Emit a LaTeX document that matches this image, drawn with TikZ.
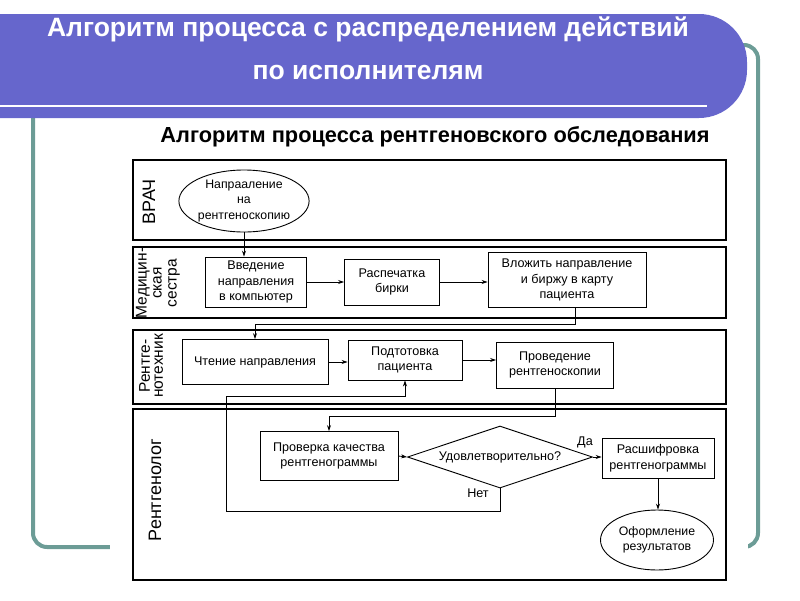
\documentclass[tikz,border=0pt]{standalone}
\usepackage{fontspec}
\setmainfont{Liberation Sans}
\usetikzlibrary{shapes.geometric,arrows.meta}
\definecolor{bannerblue}{RGB}{102,102,204}
\definecolor{frameteal}{RGB}{108,156,150}

\begin{document}
\begin{tikzpicture}[x=1pt,y=-1pt,
    procbox/.style={draw,line width=0.9pt,align=center,inner sep=0pt,font=\fontsize{12.6}{15.5}\selectfont},
    oval/.style={draw,ellipse,line width=0.9pt,align=center,inner sep=0pt,font=\fontsize{12.3}{15.5}\selectfont},
    decide/.style={draw,diamond,aspect=3,line width=0.9pt,inner sep=0pt,font=\fontsize{12.6}{15.5}\selectfont},
    lane/.style={draw,line width=1.6pt},
    lanelbl/.style={rotate=90,align=center,font=\fontsize{18}{18}\selectfont},
    flow/.style={-{Stealth[length=6pt,width=4pt]},line width=0.8pt}]
    \useasboundingbox (0,0) rectangle (800,600);

    % Slide frame and banner
    \draw[frameteal,line width=4pt,rounded corners=14pt] (33,60) -- (33,547) -- (758,547) -- (758,45) -- (690,45);
    \fill[bannerblue,rounded corners=48pt] (-60,14) rectangle (747,118);
    \draw[white,line width=2pt] (0,106) -- (707,106);
    \node[white,font=\bfseries\fontsize{26.5}{30}\selectfont] (title) at (368,29) {Алгоритм процесса с распределением действий};
    \node[white,font=\bfseries\fontsize{26.5}{30}\selectfont] (title2) at (368,72) {по исполнителям};

    % Scanned chart
    \fill[white] (110,119) rectangle (748,590);
    \node[font=\bfseries\fontsize{21.8}{26}\selectfont] (sub) at (435,137) {Алгоритм процесса рентгеновского обследования};

    % Lanes
    \draw[lane] (133,160) rectangle (726,240);
    \draw[lane] (133,247) rectangle (726,318);
    \draw[lane] (133,330) rectangle (726,404);
    \draw[lane] (133,409) rectangle (726,580);
    \node[lanelbl] (lbVrach) at (149,202) {ВРАЧ};
    \node[lanelbl,font=\fontsize{15.5}{15}\selectfont] (lbMed) at (158,283) {Медицин-\\ская\\сестра};
    \node[lanelbl,font=\fontsize{15.5}{13}\selectfont] (lbTech) at (151,366) {Рентге-\\нотехник};
    \node[lanelbl] (lbRad) at (155,490) {Рентгенолог};

    % Steps
    \node[oval,minimum width=122,minimum height=62] (napr) at (244,201) {Напрааление\\на\\рентгеноскопию};
    \node[procbox,minimum width=101,minimum height=50] (vved) at (256,282) {Введение\\направления\\в компьютер};
    \node[procbox,minimum width=95,minimum height=46] (rasp) at (392,282) {Распечатка\\бирки};
    \node[procbox,minimum width=158,minimum height=55] (vloz) at (567,280) {Вложить направление\\и биржу в карту\\пациента};
    \node[procbox,minimum width=146,minimum height=45] (cht) at (255,362) {Чтение направления};
    \node[procbox,minimum width=114,minimum height=40] (podg) at (405,360) {Подтотовка\\пациента};
    \node[procbox,minimum width=117,minimum height=46] (prov) at (555,365) {Проведение\\рентгеноскопии};
    \node[procbox,minimum width=138,minimum height=49] (check) at (329,456) {Проверка качества\\рентгенограммы};
    \node[decide,minimum width=185,minimum height=62] (dec) at (500,457) {Удовлетворительно?};
    \node[procbox,minimum width=112,minimum height=40] (rassh) at (658,458) {Расшифровка\\рентгенограммы};
    \node[oval,minimum width=113,minimum height=60] (oform) at (657,540) {Оформление\\результатов};

    % Flow
    \coordinate (loopCorner) at (226,396);
    \draw[flow] (napr.south) -- (napr.south |- vved.north);
    \draw[flow] (vved.east) -- (vved.east -| rasp.west);
    \draw[flow] (rasp.east) -- (rasp.east -| vloz.west);
    \draw[flow] ([xshift=8pt]vloz.south) -- ++(0,16) -| (cht.north);
    \draw[flow] (cht.east) -- (cht.east -| podg.west);
    \draw[flow] (podg.east) -- (podg.east -| prov.west);
    \draw[flow] (prov.south) -- ++(0,28) -| (check.north);
    \draw[flow] (check.east) -- (dec.west);
    \draw[flow] (dec.east) -- (dec.east -| rassh.west);
    \node[font=\fontsize{12.6}{14}\selectfont] (yes) at (585,442) {Да};
    \draw[flow] (dec.south) -- ++(0,23) -| (loopCorner) -| (podg.south);
    \node[font=\fontsize{12.6}{14}\selectfont] (no) at (478,493) {Нет};
    \draw[flow] (rassh.south) -- (rassh.south |- oform.north);
\end{tikzpicture}
\end{document}
